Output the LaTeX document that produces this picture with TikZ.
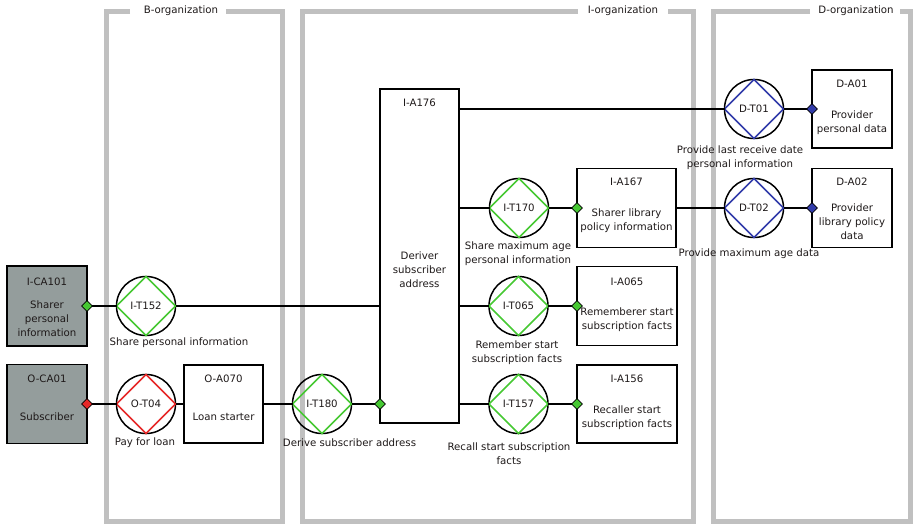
\documentclass[tikz,border=0pt]{standalone}
\usepackage{fontspec}
\setmainfont{DejaVu Sans}
\usetikzlibrary{shapes.geometric}
\definecolor{framegray}{RGB}{192,192,192}
\definecolor{actorfill}{RGB}{148,157,156}
\definecolor{tgreen}{RGB}{70,200,50}
\definecolor{tred}{RGB}{230,40,40}
\definecolor{tblue}{RGB}{50,60,170}
\definecolor{txt}{RGB}{30,25,25}
\newcommand\transact[4]{%
  \node[trcircle] (#1) at (#2) {#3};
  \draw[#4, line width=1.5pt] (#1.north) -- (#1.east) -- (#1.south) -- (#1.west) -- cycle;}
\begin{document}
\begin{tikzpicture}[x=1pt,y=-1pt,
  every node/.style={font=\fontsize{10.2}{14}\selectfont, text=txt},
  orgframe/.style={draw=framegray, line width=5pt},
  box/.style={draw=black, line width=1.4pt, rectangle, inner sep=0pt, outer sep=0pt},
  actor/.style={box, fill=actorfill},
  trcircle/.style={draw=black, line width=1.5pt, circle, minimum size=59pt, inner sep=0pt, outer sep=0pt},
  link/.style={draw=black, line width=1.5pt},
  lbl/.style={align=center, inner sep=0pt},
  pin/.style={diamond, draw=black, line width=0.8pt, minimum size=11pt, inner sep=0pt},
]
\useasboundingbox (0,0) rectangle (913,526);
% organisation frames
\draw[orgframe] (130,12) -- (106,12) -- (106,521) -- (282,521) -- (282,12) -- (226,12);
\draw[orgframe] (578,12) -- (302,12) -- (302,521) -- (693,521) -- (693,12) -- (668,12);
\draw[orgframe] (810,12) -- (713,12) -- (713,521) -- (910,521) -- (910,12) -- (900,12);
\node[lbl] (borg) at (181,11) {B-organization};
\node[lbl] (iorg) at (623,11) {I-organization};
\node[lbl] (dorg) at (856,11) {D-organization};

% actor roles
\node[actor, minimum width=80pt, minimum height=80pt] (ca101) at (47,306) {};
\node[lbl] (ca101c) at (47,282) {I-CA101};
\node[lbl] (ca101n) at (47,319) {Sharer\\personal\\information};
\node[actor, minimum width=80pt, minimum height=79pt] (oca01) at (47,404) {};
\node[lbl] (oca01c) at (47,379) {O-CA01};
\node[lbl] (oca01n) at (47,417) {Subscriber};

\node[box, minimum width=79pt, minimum height=78pt] (a070) at (223.5,404) {};
\node[lbl] (a070c) at (223.5,379) {O-A070};
\node[lbl] (a070n) at (223.5,417) {Loan starter};

\node[box, minimum width=79pt, minimum height=334pt] (a176) at (419.5,256) {};
\node[lbl] (a176c) at (419.5,103) {I-A176};
\node[lbl] (a176n) at (419.5,270) {Deriver\\subscriber\\address};

\node[box, minimum width=99pt, minimum height=79pt] (a167) at (626.5,208) {};
\node[lbl] (a167c) at (626.5,182) {I-A167};
\node[lbl] (a167n) at (626.5,221) {Sharer library\\policy information};

\node[box, minimum width=100pt, minimum height=79pt] (a065) at (627,306) {};
\node[lbl] (a065c) at (627,282) {I-A065};
\node[lbl] (a065n) at (627,320) {Rememberer start\\subscription facts};

\node[box, minimum width=100pt, minimum height=78pt] (a156) at (627,404) {};
\node[lbl] (a156c) at (627,379) {I-A156};
\node[lbl] (a156n) at (627,417.5) {Recaller start\\subscription facts};

\node[box, minimum width=80pt, minimum height=78pt] (da01) at (852,109) {};
\node[lbl] (da01c) at (852,84) {D-A01};
\node[lbl] (da01n) at (852,122.5) {Provider\\personal data};

\node[box, minimum width=80pt, minimum height=79pt] (da02) at (852,208) {};
\node[lbl] (da02c) at (852,182) {D-A02};
\node[lbl] (da02n) at (852,222) {Provider\\library policy\\data};

% transactions
\transact{t152}{146,306}{I-T152}{tgreen}
\transact{t04}{146,404}{O-T04}{tred}
\transact{t180}{322,404}{I-T180}{tgreen}
\transact{t170}{519,208}{I-T170}{tgreen}
\transact{t065}{518.5,306}{I-T065}{tgreen}
\transact{t157}{518.5,404}{I-T157}{tgreen}
\transact{d01}{754,109}{D-T01}{tblue}
\transact{d02}{754,208}{D-T02}{tblue}

\node[lbl] (t152l) at (179,343) {Share personal information};
\node[lbl] (t04l) at (145,443) {Pay for loan};
\node[lbl] (t180l) at (349.5,443) {Derive subscriber address};
\node[lbl] (t170l) at (518,253.5) {Share maximum age\\personal information};
\node[lbl] (t065l) at (517,352.5) {Remember start\\subscription facts};
\node[lbl] (t157l) at (509,453.5) {Recall start subscription\\facts};
\node[lbl] (d01l) at (740,158) {Provide last receive date\\personal information};
\node[lbl] (d02l) at (749,254) {Provide maximum age data};

% connectors
\draw[link] (ca101.east) -- (t152.west);
\draw[link] (t152.east) -- (t152.east -| a176.west);
\draw[link] (oca01.east) -- (t04.west);
\draw[link] (t04.east) -- (t04.east -| a070.west);
\draw[link] (t180.west -| a070.east) -- (t180.west);
\draw[link] (t180.east) -- (t180.east -| a176.west);
\draw[link] (d01.west -| a176.east) -- (d01.west);
\draw[link] (t170.west -| a176.east) -- (t170.west);
\draw[link] (t170.east) -- (t170.east -| a167.west);
\draw[link] (t065.west -| a176.east) -- (t065.west);
\draw[link] (t065.east) -- (t065.east -| a065.west);
\draw[link] (t157.west -| a176.east) -- (t157.west);
\draw[link] (t157.east) -- (t157.east -| a156.west);
\draw[link] (a167.east) -- (a167.east -| d02.west);
\draw[link] (d01.east) -- (d01.east -| da01.west);
\draw[link] (d02.east) -- (d02.east -| da02.west);

% executor pins
\node[pin, fill=tgreen] (p1) at (ca101.east) {};
\node[pin, fill=tred] (p2) at (oca01.east |- t04.west) {};
\node[pin, fill=tgreen] (p3) at (t180.east -| a176.west) {};
\node[pin, fill=tgreen] (p4) at (t170.east -| a167.west) {};
\node[pin, fill=tgreen] (p5) at (t065.east -| a065.west) {};
\node[pin, fill=tgreen] (p6) at (t157.east -| a156.west) {};
\node[pin, fill=tblue] (p7) at (d01.east -| da01.west) {};
\node[pin, fill=tblue] (p8) at (d02.east -| da02.west) {};
\end{tikzpicture}
\end{document}
